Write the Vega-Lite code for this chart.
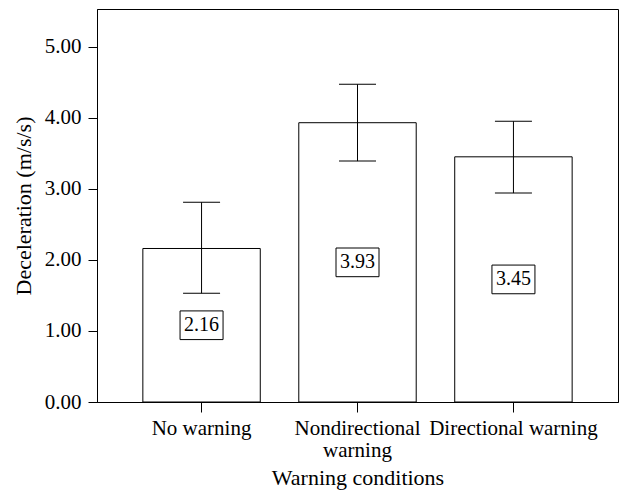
{
  "$schema": "https://vega.github.io/schema/vega-lite/v6.json",
  "width": 521,
  "height": 393,
  "autosize": "none",
  "padding": {"left": 97, "top": 9, "right": 21, "bottom": 91},
  "background": "white",
  "config": {
    "font": "Liberation Serif",
    "view": {"stroke": "black", "strokeWidth": 1},
    "axis": {
      "labelFont": "Liberation Serif",
      "titleFont": "Liberation Serif",
      "labelFontSize": 21,
      "titleFontSize": 22,
      "titleFontWeight": "normal",
      "labelColor": "black",
      "titleColor": "black",
      "domainColor": "black",
      "tickColor": "black",
      "grid": false
    }
  },
  "data": {
    "values": [
      {"condition": "No warning", "mean": 2.16, "lower": 1.53, "upper": 2.81},
      {"condition": "Nondirectional warning", "mean": 3.93, "lower": 3.39, "upper": 4.47},
      {"condition": "Directional warning", "mean": 3.45, "lower": 2.94, "upper": 3.95}
    ]
  },
  "transform": [{"calculate": "datum.mean / 2", "as": "labelPos"}],
  "encoding": {
    "x": {
      "field": "condition",
      "type": "nominal",
      "sort": null,
      "scale": {"paddingInner": 0.247, "paddingOuter": 0.294},
      "axis": {
        "title": "Warning conditions",
        "labelAngle": 0,
        "tickSize": 10,
        "labelPadding": 5,
        "labelLimit": 0,
        "labelLineHeight": 22,
        "labelExpr": "datum.value == 'Nondirectional warning' ? ['Nondirectional', 'warning'] : datum.value",
        "titlePadding": 7
      }
    }
  },
  "layer": [
    {
      "mark": {"type": "bar", "fill": "white", "stroke": "black", "strokeWidth": 1},
      "encoding": {
        "y": {
          "field": "mean",
          "type": "quantitative",
          "scale": {"domain": [0, 5.53], "nice": false},
          "axis": {
            "title": "Deceleration (m/s/s)",
            "values": [0, 1, 2, 3, 4, 5],
            "format": ".2f",
            "tickSize": 9,
            "labelPadding": 7,
            "titlePadding": 9
          }
        }
      }
    },
    {
      "mark": {"type": "rule", "color": "black", "strokeWidth": 1},
      "encoding": {
        "y": {"field": "lower", "type": "quantitative"},
        "y2": {"field": "upper"}
      }
    },
    {
      "mark": {"type": "tick", "size": 37, "thickness": 1, "color": "black", "opacity": 1},
      "encoding": {"y": {"field": "lower", "type": "quantitative"}}
    },
    {
      "mark": {"type": "tick", "size": 37, "thickness": 1, "color": "black", "opacity": 1},
      "encoding": {"y": {"field": "upper", "type": "quantitative"}}
    },
    {
      "mark": {
        "type": "point",
        "shape": "M-1,-0.667H1V0.667H-1Z",
        "size": 1849,
        "filled": true,
        "fill": "white",
        "stroke": "black",
        "strokeWidth": 1,
        "opacity": 1
      },
      "encoding": {"y": {"field": "labelPos", "type": "quantitative"}}
    },
    {
      "mark": {"type": "text", "font": "Liberation Serif", "fontSize": 20, "color": "black", "baseline": "middle", "align": "center"},
      "encoding": {
        "y": {"field": "labelPos", "type": "quantitative"},
        "text": {"field": "mean", "type": "quantitative", "format": ".2f"}
      }
    }
  ]
}
